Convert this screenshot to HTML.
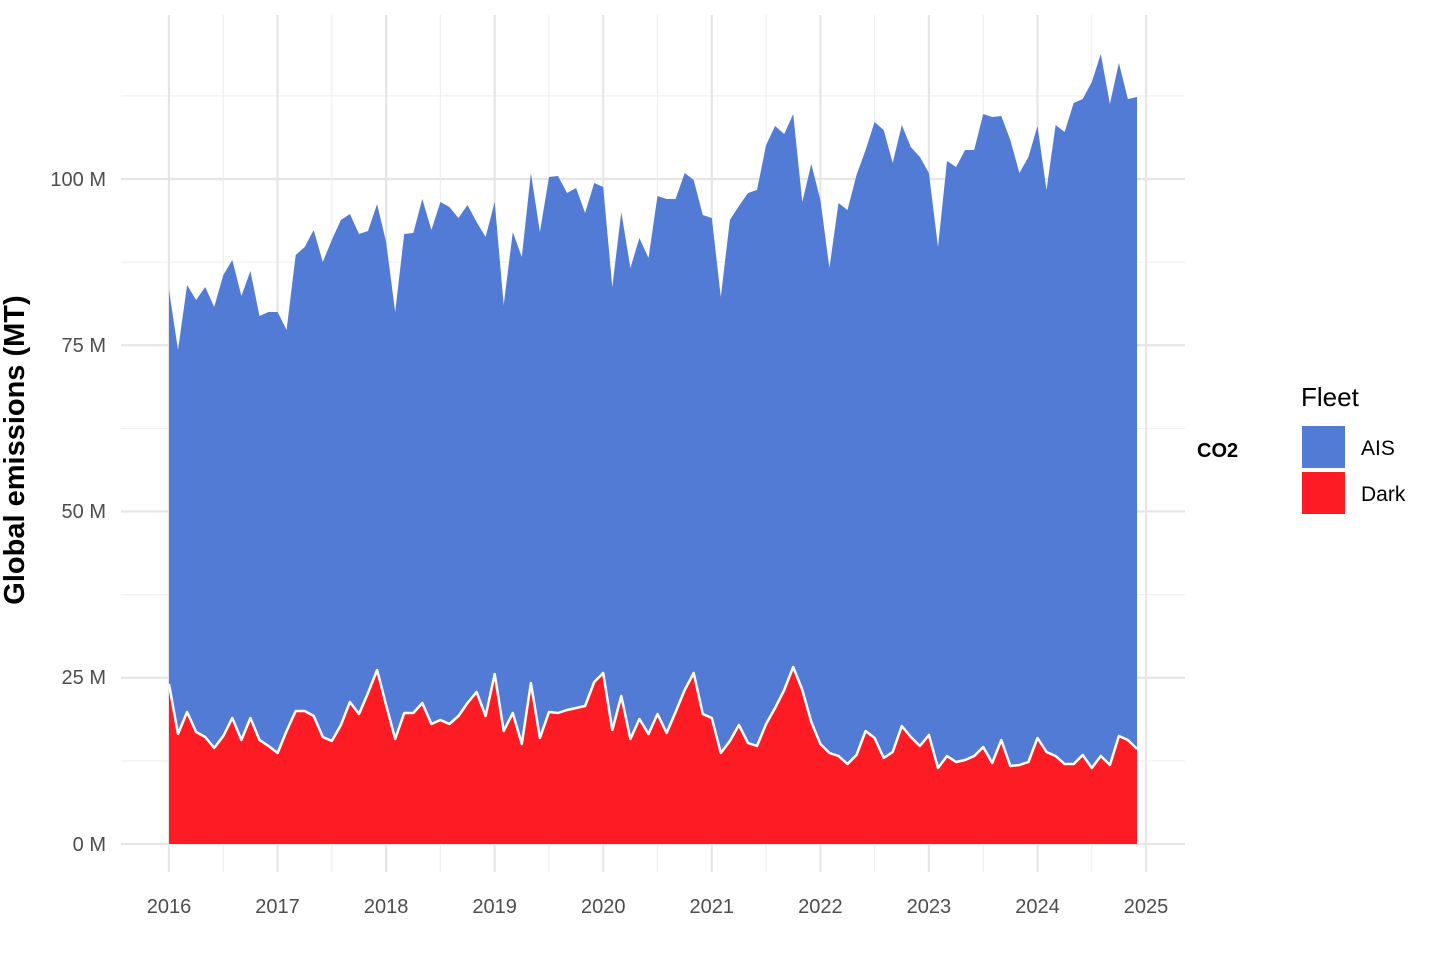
<!DOCTYPE html>
<html><head><meta charset="utf-8"><style>
body{margin:0;background:#fff;width:1440px;height:960px;overflow:hidden}
text{font-family:"Liberation Sans",Arial,sans-serif}
</style></head><body>
<svg id="s" width="1440" height="960" xmlns="http://www.w3.org/2000/svg">
<g id="grid"></g>
<g id="data"></g>
<g fill="#4d4d4d" font-size="20">
<text x="106" y="851" text-anchor="end">0 M</text>
<text x="106" y="684" text-anchor="end">25 M</text>
<text x="106" y="518" text-anchor="end">50 M</text>
<text x="106" y="352" text-anchor="end">75 M</text>
<text x="106" y="186" text-anchor="end">100 M</text>
</g>
<g id="xl" fill="#4d4d4d" font-size="20" text-anchor="middle"></g>
<text transform="translate(24,450) rotate(-90)" text-anchor="middle" font-size="29" font-weight="bold" fill="#000">Global emissions (MT)</text>
<text x="1197" y="457" font-size="20" font-weight="bold" fill="#000">CO2</text>
<text x="1301" y="406" font-size="26" fill="#000">Fleet</text>
<rect x="1302" y="426" width="43" height="42" fill="#527bd6"/>
<rect x="1302" y="472" width="43" height="42" fill="#fe1c24"/>
<text x="1361" y="455" font-size="21" fill="#000">AIS</text>
<text x="1361" y="501" font-size="21" fill="#000">Dark</text>
</svg>
<script>
(function(){
var ns="http://www.w3.org/2000/svg";
function el(p,t,a){var e=document.createElementNS(ns,t);for(var k in a)e.setAttribute(k,a[k]);p.appendChild(e);return e;}
var g=document.getElementById('grid');
var y0=844,yu=166.25,x0=169,xy=108.56;
for(var i=0;i<5;i++){var y=y0-yu*i;el(g,'line',{x1:121,x2:1185,y1:y,y2:y,stroke:'#e6e6e6','stroke-width':2.2});
 var ym=y-yu/2;el(g,'line',{x1:121,x2:1185,y1:ym,y2:ym,stroke:'#eeeeee','stroke-width':1.1});}
for(var j=0;j<10;j++){var x=x0+xy*j;el(g,'line',{x1:x,x2:x,y1:15,y2:872,stroke:'#e6e6e6','stroke-width':2.2});
 if(j<9){el(g,'line',{x1:x+xy/2,x2:x+xy/2,y1:15,y2:872,stroke:'#eeeeee','stroke-width':1.1});}
 el(document.getElementById('xl'),'text',{x:x,y:913}).textContent=2016+j;}
var tot=[290,350,285,300,287,307,275,260,296,271,316,312,
312,330,255,247,230,262,240,220,214,234,231,204,
242,312,234,233,199,230,202,207,218,205,222,237,
202,305,232,257,173,232,177,176,193,188,213,183,
187,287,212,268,238,258,196,199,199,173,180,215,
218,297,220,206,193,190,145,126,134,114,202,164,
200,268,203,210,175,150,122,130,163,125,147,157,
173,247,161,167,150,150,114,117,116,140,173,157,
126,190,125,132,103,99,82,54,104,63,99,97];
var dk=[684,734,712,732,737,748,736,718,740,718,740,746,
753,731,711,711,716,737,741,725,702,714,693,670,
705,739,713,713,703,724,720,724,716,703,692,716,
674,731,713,744,683,738,712,713,710,708,706,682,
673,730,696,739,719,734,714,733,712,690,673,714,
718,753,741,725,743,746,724,708,690,667,690,722,
744,753,756,764,755,731,738,758,752,726,737,746,
735,768,756,762,760,756,747,763,740,766,765,762,
738,752,756,764,764,755,768,756,765,736,740,749];
var dx=xy/12,d=document.getElementById('data');
var pt="M"+x0+" "+y0,pd=pt,ln="";
for(var i=0;i<tot.length;i++){var x=(x0+i*dx).toFixed(1);pt+=" L"+x+" "+tot[i];pd+=" L"+x+" "+dk[i];ln+=(i?" L":"M")+x+" "+dk[i];}
var xe=(x0+(tot.length-1)*dx).toFixed(1);
pt+=" L"+xe+" "+y0+"Z";pd+=" L"+xe+" "+y0+"Z";
el(d,'path',{d:pt,fill:'#527bd6'});
el(d,'path',{d:pd,fill:'#fe1c24'});
el(d,'path',{d:ln,fill:'none',stroke:'#fff','stroke-width':2.5,'stroke-linejoin':'round'});
})();
</script>
</body></html>
